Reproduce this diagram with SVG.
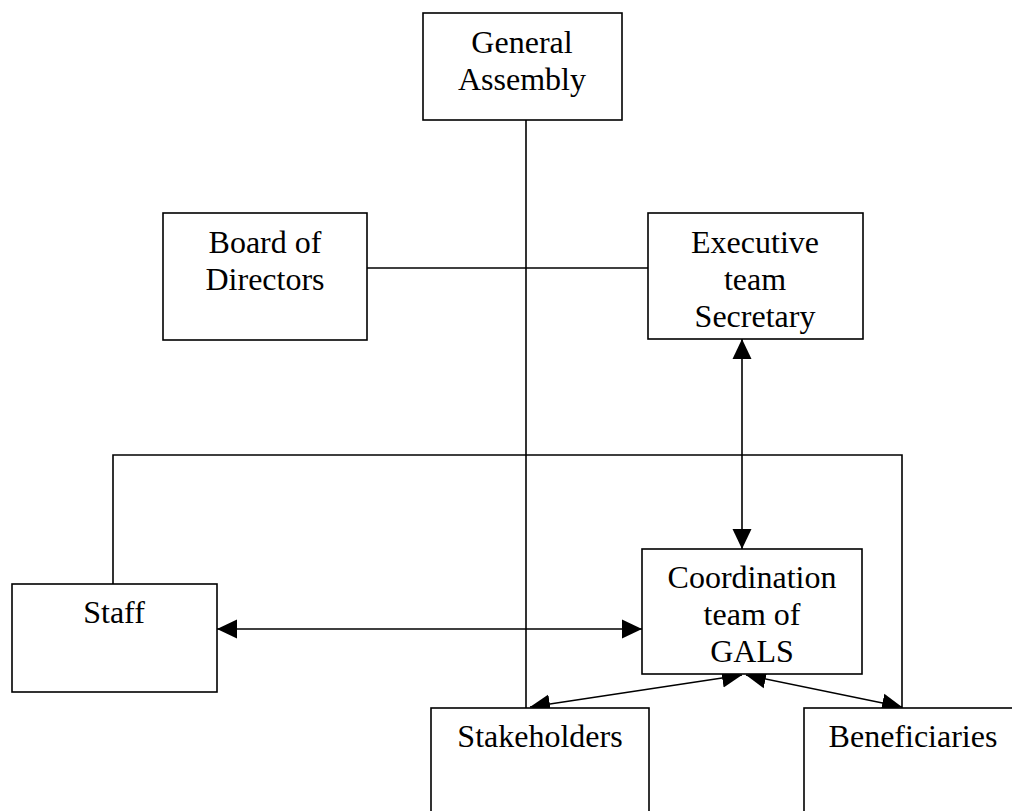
<svg xmlns="http://www.w3.org/2000/svg" width="1012" height="811" viewBox="0 0 1012 811">
<style>
.box{fill:#fff;stroke:#000;stroke-width:1.6}
.lbl{font-family:"Liberation Serif","Times New Roman",serif;font-size:32px;fill:#000;text-anchor:middle}
.ln{fill:none;stroke:#000;stroke-width:1.6}
.ar{marker-start:url(#ah);marker-end:url(#ah)}
</style>
<defs>
<marker id="ah" viewBox="0 0 20 20" refX="20" refY="10" markerWidth="20" markerHeight="20" markerUnits="userSpaceOnUse" orient="auto-start-reverse">
<path d="M0,0.5 L20,10 L0,19.5 z" fill="#000"/>
</marker>
</defs>
<rect width="1012" height="811" fill="#fff"/>
<g id="connectors">
<line class="ln" x1="526" y1="120" x2="526" y2="708"/>
<line class="ln" x1="367" y1="268" x2="648" y2="268"/>
<polyline class="ln" points="113,584 113,455 902,455 902,708"/>
<line class="ln ar" x1="742" y1="339" x2="742" y2="549"/>
<line class="ln ar" x1="217" y1="629" x2="642" y2="629"/>
<line class="ln ar" x1="742" y1="675" x2="530" y2="707"/>
<line class="ln ar" x1="746" y1="675" x2="902" y2="707"/>
</g>
<g id="general-assembly">
<rect class="box" x="423" y="13" width="199" height="107"/>
<text class="lbl" x="522" y="53">General</text>
<text class="lbl" x="522" y="90">Assembly</text>
</g>
<g id="board-of-directors">
<rect class="box" x="163" y="213" width="204" height="127"/>
<text class="lbl" x="265" y="253">Board of</text>
<text class="lbl" x="265" y="290">Directors</text>
</g>
<g id="executive-team">
<rect class="box" x="648" y="213" width="215" height="126"/>
<text class="lbl" x="755" y="253">Executive</text>
<text class="lbl" x="755" y="290">team</text>
<text class="lbl" x="755" y="327">Secretary</text>
</g>
<g id="staff">
<rect class="box" x="12" y="584" width="205" height="108"/>
<text class="lbl" x="114" y="623">Staff</text>
</g>
<g id="coordination-team">
<rect class="box" x="642" y="549" width="220" height="125"/>
<text class="lbl" x="752" y="588">Coordination</text>
<text class="lbl" x="752" y="625">team of</text>
<text class="lbl" x="752" y="662">GALS</text>
</g>
<g id="stakeholders">
<rect class="box" x="431" y="708" width="218" height="120"/>
<text class="lbl" x="540" y="747">Stakeholders</text>
</g>
<g id="beneficiaries">
<rect class="box" x="804" y="708" width="230" height="120"/>
<text class="lbl" x="913" y="747">Beneficiaries</text>
</g>
</svg>
